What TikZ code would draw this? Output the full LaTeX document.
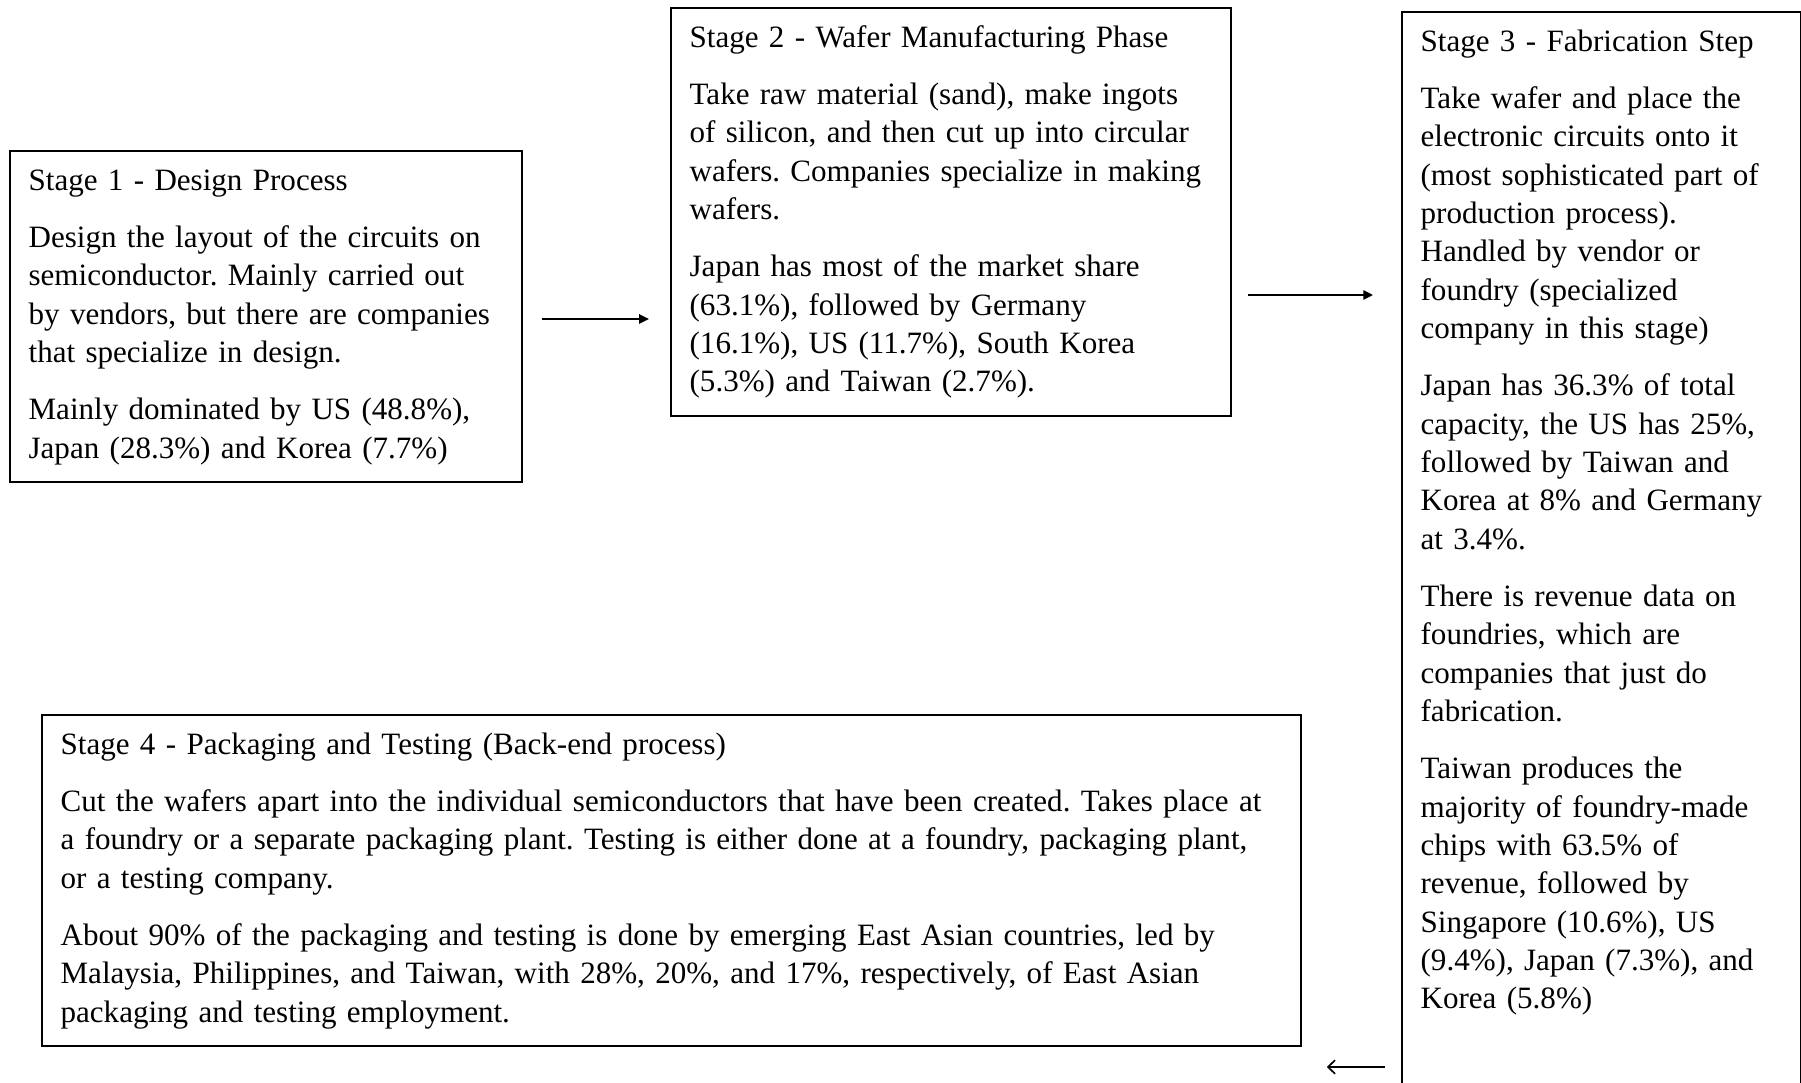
\documentclass[tikz,border=0pt]{standalone}
\usepackage{fontspec}
\setmainfont{Liberation Serif}
\usetikzlibrary{arrows.meta}
\newcommand{\stagefont}{\fontsize{11.35pt}{14pt}\selectfont\frenchspacing\hyphenpenalty=10000\relax}

\begin{document}
\begin{tikzpicture}[
    x=0.3655pt, y=-0.3655pt,
    stagebox/.style={draw, rectangle, line width=0.75pt, anchor=north west, align=left, inner xsep=6.8pt, inner ysep=4.5pt, font=\stagefont, execute at begin node=\strut, execute at end node=\strut},
    arrow/.style={-{Triangle[length=3.6pt, width=3.4pt]}, line width=0.75pt},
    backarrow/.style={-{Straight Barb[length=2.6pt, width=5pt]}, line width=0.6pt}
]
    \useasboundingbox (0,0) rectangle (1801,1083);

    \node[stagebox, text width=173.5pt] (design) at (9,150) {Stage 1 - Design Process\\[7pt]
        Design the layout of the circuits on\\
        semiconductor. Mainly carried out\\
        by vendors, but there are companies\\
        that specialize in design.\\[7pt]
        Mainly dominated by US (48.8\%),\\
        Japan (28.3\%) and Korea (7.7\%)};
    \node[stagebox, text width=191.1pt] (wafer) at (670,7) {Stage 2 - Wafer Manufacturing Phase\\[7pt]
        Take raw material (sand), make ingots\\
        of silicon, and then cut up into circular\\
        wafers. Companies specialize in making\\
        wafers.\\[7pt]
        Japan has most of the market share\\
        (63.1\%), followed by Germany\\
        (16.1\%), US (11.7\%), South Korea\\
        (5.3\%) and Taiwan (2.7\%).};
    \node[stagebox, text width=132.2pt] (fab) at (1401,11) {Stage 3 - Fabrication Step\\[7pt]
        Take wafer and place the\\
        electronic circuits onto it\\
        (most sophisticated part of\\
        production process).\\
        Handled by vendor or\\
        foundry (specialized\\
        company in this stage)\\[7pt]
        Japan has 36.3\% of total\\
        capacity, the US has 25\%,\\
        followed by Taiwan and\\
        Korea at 8\% and Germany\\
        at 3.4\%.\\[7pt]
        There is revenue data on\\
        foundries, which are\\
        companies that just do\\
        fabrication.\\[7pt]
        Taiwan produces the\\
        majority of foundry-made\\
        chips with 63.5\% of\\
        revenue, followed by\\
        Singapore (10.6\%), US\\
        (9.4\%), Japan (7.3\%), and\\
        Korea (5.8\%)\\[10pt]\mbox{}};
    \node[stagebox, text width=446.5pt] (packaging) at (41,714) {Stage 4 - Packaging and Testing (Back-end process)\\[7pt]
        Cut the wafers apart into the individual semiconductors that have been created. Takes place at\\
        a foundry or a separate packaging plant. Testing is either done at a foundry, packaging plant,\\
        or a testing company.\\[7pt]
        About 90\% of the packaging and testing is done by emerging East Asian countries, led by\\
        Malaysia, Philippines, and Taiwan, with 28\%, 20\%, and 17\%, respectively, of East Asian\\
        packaging and testing employment.};

    % connectors between the stages
    \coordinate (row1) at (0,319);
    \coordinate (row2) at (0,295);
    \coordinate (row3) at (0,1067);
    \draw[arrow, shorten <=6.9pt, shorten >=7.7pt] (design.east |- row1) -- (wafer.west |- row1);
    \draw[arrow, shorten <=5.85pt, shorten >=10.2pt] (wafer.east |- row2) -- (fab.west |- row2);
    \draw[backarrow, shorten <=5.85pt, shorten >=9.1pt] (fab.west |- row3) -- (packaging.east |- row3);
\end{tikzpicture}
\end{document}
